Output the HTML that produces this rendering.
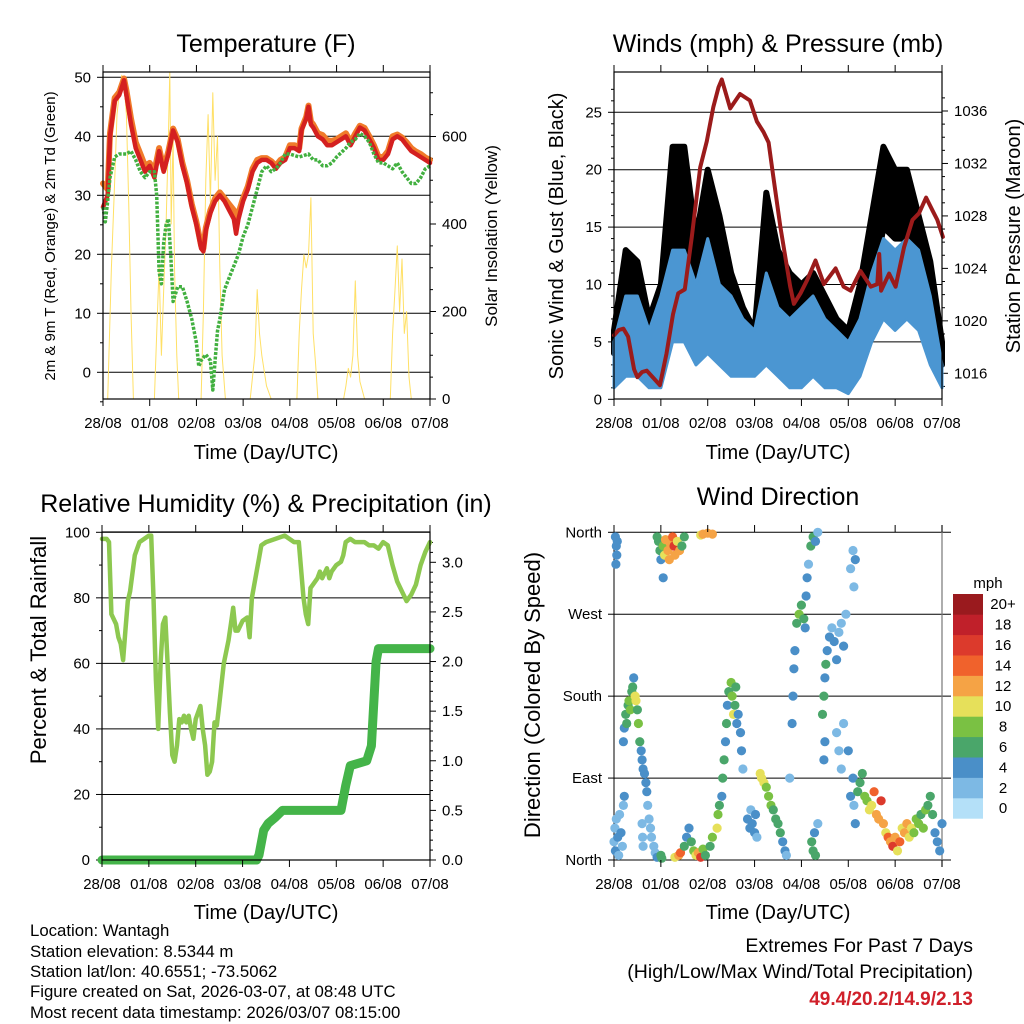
<!DOCTYPE html>
<html><head><meta charset="utf-8"><style>
html,body{margin:0;padding:0;background:#fff;}
svg{display:block;font-family:"Liberation Sans",Arial,sans-serif;}
</style></head><body>
<svg id="chart" xmlns="http://www.w3.org/2000/svg" width="1024" height="1024" viewBox="0 0 1024 1024">
<rect x="0" y="0" width="1024" height="1024" fill="#fff"/>
<text x="266" y="52" font-size="25" text-anchor="middle">Temperature (F)</text>
<text x="778" y="52" font-size="25" text-anchor="middle">Winds (mph) &amp; Pressure (mb)</text>
<text x="266" y="512" font-size="25" text-anchor="middle">Relative Humidity (%) &amp; Precipitation (in)</text>
<text x="778" y="505" font-size="25" text-anchor="middle">Wind Direction</text>
<text x="266" y="459" font-size="20" text-anchor="middle">Time (Day/UTC)</text>
<text x="778" y="459" font-size="20" text-anchor="middle">Time (Day/UTC)</text>
<text x="266" y="919" font-size="20" text-anchor="middle">Time (Day/UTC)</text>
<text x="778" y="919" font-size="20" text-anchor="middle">Time (Day/UTC)</text>
<text transform="translate(55,236) rotate(-90)" font-size="15" text-anchor="middle">2m &amp; 9m T (Red, Orange) &amp; 2m Td (Green)</text>
<text transform="translate(497,236) rotate(-90)" font-size="17" text-anchor="middle">Solar Insolation (Yellow)</text>
<text transform="translate(563,236) rotate(-90)" font-size="20" text-anchor="middle">Sonic Wind &amp; Gust (Blue, Black)</text>
<text transform="translate(1020,236) rotate(-90)" font-size="20" text-anchor="middle">Station Pressure (Maroon)</text>
<text transform="translate(46,650) rotate(-90)" font-size="22" text-anchor="middle">Percent &amp; Total Rainfall</text>
<text transform="translate(540,695) rotate(-90)" font-size="22" text-anchor="middle">Direction (Colored By Speed)</text>
<g font-size="16.8">
<text x="30" y="936">Location: Wantagh</text>
<text x="30" y="957">Station elevation: 8.5344 m</text>
<text x="30" y="977">Station lat/lon: 40.6551; -73.5062</text>
<text x="30" y="997">Figure created on Sat, 2026-03-07, at 08:48 UTC</text>
<text x="30" y="1018">Most recent data timestamp: 2026/03/07 08:15:00</text>
</g>
<text x="973" y="952" font-size="19.5" text-anchor="end">Extremes For Past 7 Days</text>
<text x="973" y="978" font-size="19.5" text-anchor="end">(High/Low/Max Wind/Total Precipitation)</text>
<text x="973" y="1005" font-size="19" font-weight="bold" fill="#d0202a" text-anchor="end">49.4/20.2/14.9/2.13</text>
<g id="layer"></g>
</svg>
<script>
const dayLabels=['28/08','01/08','02/08','03/08','04/08','05/08','06/08','07/08'];
// Temperature panel
const tempT=[0,0.1,0.15,0.25,0.35,0.45,0.5,0.6,0.7,0.8,0.9,1.0,1.1,1.2,1.3,1.4,1.5,1.6,1.7,1.8,1.9,2.0,2.1,2.15,2.2,2.3,2.4,2.5,2.6,2.7,2.8,2.85,2.9,3.0,3.1,3.2,3.3,3.4,3.5,3.6,3.7,3.8,3.9,4.0,4.1,4.2,4.25,4.35,4.4,4.45,4.5,4.6,4.7,4.8,4.9,5.0,5.1,5.2,5.3,5.4,5.5,5.6,5.7,5.8,5.9,6.0,6.1,6.2,6.3,6.4,6.5,6.6,6.7,6.8,6.9,7.0];
const temp2m=[28,30,40,46,47,49.5,47,42,38,36,34,35,33,37.5,34,37,41,39,35,32,28,25,21,20.5,24,27,29,30,29,27.5,26,23.5,26,29,31,34,35.5,36,36,35.5,34.5,35.5,36,38,38,37.5,41,43,45,42,41.5,40,39.5,38.5,38.5,39,39.5,40,38.5,40,41.5,41,39.5,38,36,36,37,39.5,40,39.5,38.5,37.5,37,36.5,36,35.5];
const temp9m=[32,31,40.5,46.5,47.5,49.8,47.8,43,39,37,35,35.5,34,38,34.5,37.5,41.3,39.5,35.5,32.5,28.5,25.5,21.5,21,24.5,27.5,29.5,30.5,29.5,28.5,27.5,25,27,29.5,31.5,34.5,36,36.3,36.3,35.8,35,36,36.5,38.5,38.5,38,41.3,43.3,45.2,42.5,42,40.5,40.2,39.3,39.2,39.5,40,40.5,39,40.5,41.8,41.4,40,38.5,36.5,36.5,37.5,40,40.3,39.8,39,38,37.4,37,36.4,36];
const tdT=[0,0.05,0.1,0.15,0.25,0.35,0.5,0.6,0.7,0.8,0.9,1.0,1.1,1.15,1.2,1.25,1.3,1.35,1.4,1.45,1.5,1.6,1.7,1.8,1.9,2.0,2.05,2.1,2.2,2.3,2.35,2.4,2.45,2.5,2.6,2.7,2.8,2.9,3.0,3.1,3.2,3.3,3.4,3.5,3.6,3.7,3.8,3.9,4.0,4.2,4.4,4.5,4.6,4.7,4.8,4.9,5.0,5.2,5.3,5.4,5.5,5.6,5.7,5.8,5.9,6.0,6.1,6.2,6.3,6.4,6.5,6.6,6.7,6.8,6.9,7.0];
const dewpoint=[28,25.5,29,33,36.5,37,37,37.5,36,34,33,34,34,30,17,15,22,25,26,20,12,14.5,14.5,12,9,5,1,2,3,2,-3,2,7,9,14,16,18,20,23,25,28,31,34,35,34,34.5,35.5,37,37,36.5,37,36,36,35,35,35.5,36.5,38,39,39.5,40.5,40,39,37,35.5,35.5,35,34.5,35.5,34,33,32,32,33,34.5,35];
const solarT=[0.1,0.18,0.25,0.3,0.35,0.4,0.45,0.5,0.55,0.6,0.65,1.1,1.15,1.2,1.25,1.3,1.35,1.4,1.43,1.46,1.5,1.53,1.58,1.62,2.1,2.15,2.2,2.25,2.3,2.35,2.4,2.45,2.5,2.55,2.62,3.15,3.25,3.3,3.35,3.4,3.5,3.6,4.15,4.2,4.25,4.3,4.35,4.4,4.45,4.5,4.55,4.6,5.15,5.2,5.25,5.3,5.35,5.4,5.45,5.5,5.6,6.15,6.2,6.25,6.3,6.35,6.4,6.45,6.5,6.55,6.6];
const solar=[0,300,500,650,700,740,720,650,450,200,0,0,150,300,100,250,400,600,750,400,600,300,100,0,0,200,500,650,450,700,500,600,300,100,0,0,100,250,150,100,30,0,0,150,250,330,300,330,460,150,80,0,0,30,70,50,100,270,100,40,0,0,150,250,350,200,320,150,200,50,0];
// Wind panel
const windT=[0,0.25,0.5,0.75,1,1.25,1.5,1.75,2,2.25,2.5,2.75,3,3.25,3.5,3.75,4,4.25,4.5,4.75,5,5.25,5.5,5.75,6,6.25,6.5,6.75,7];
const windHi=[5,9,9,6,9,13,13,10,14,10,9,7,6,11,8,7,8,9,7,6,5,7,11,14,13,14,13,9,3];
const windLo=[1,2,2,1,1,5,5,3,4,3,2,2,2,3,2,1,1,2,1,1,0.5,2,5,7,6,7,6,3,1];
const gustHi=[6,13,12,7,10,22,22,14,20,16,11,8,6,18,13,11,10,11,9,7,6,10,16,22,20,20,16,12,5];
const gustLo=[4,5,4,3,5,12,12,7,10,8,6,4,4,10,8,5,6,6,5,4,4,6,9,15,14,14,10,7,3];
const presT=[0,0.1,0.2,0.3,0.43,0.5,0.6,0.7,0.8,0.98,1.12,1.26,1.37,1.51,1.66,1.84,1.98,2.12,2.23,2.3,2.48,2.69,2.9,3.05,3.19,3.3,3.4,3.55,3.76,3.84,3.98,4.12,4.3,4.48,4.73,4.9,5.05,5.26,5.48,5.62,5.66,5.7,5.87,6.01,6.19,6.37,6.51,6.66,6.8,6.9,7.02];
const pressure=[1018.9,1019.3,1019.4,1018.8,1016.3,1015.7,1016.1,1016.2,1015.8,1015.1,1017.5,1020.5,1022.1,1022.4,1026.4,1031.7,1033.7,1036.3,1037.8,1038.4,1036.2,1037.3,1036.8,1035.2,1034.4,1033.6,1031,1027.2,1022.6,1021.3,1022.1,1023.1,1024.6,1022.8,1024,1022.6,1022.3,1023.8,1022.6,1022.8,1025.1,1022.3,1023.6,1022.6,1025.6,1027.7,1028.2,1029.4,1028.4,1027.7,1026.4];
// Humidity panel
const rhT=[0,0.1,0.15,0.2,0.3,0.35,0.4,0.45,0.5,0.55,0.6,0.7,0.8,0.9,1.0,1.05,1.1,1.15,1.2,1.25,1.3,1.35,1.4,1.45,1.5,1.55,1.6,1.65,1.7,1.75,1.8,1.85,1.9,1.95,2.0,2.1,2.15,2.2,2.25,2.3,2.35,2.4,2.45,2.5,2.6,2.7,2.75,2.8,2.85,2.9,3.0,3.1,3.15,3.2,3.3,3.35,3.4,3.5,3.7,3.9,4.0,4.1,4.2,4.3,4.35,4.4,4.45,4.5,4.6,4.65,4.7,4.8,4.85,4.9,5.0,5.1,5.15,5.2,5.3,5.4,5.5,5.6,5.7,5.8,5.9,6.0,6.1,6.2,6.3,6.4,6.5,6.6,6.7,6.8,6.9,7.0];
const rh=[98,98,97,75,72,68,66,61,70,79,82,93,97,98,99,99,80,55,40,60,72,74,60,45,32,30,35,43,42,44,42,44,40,37,43,47,40,35,26,27,30,42,41,47,60,67,72,77,70,70,73,74,68,80,88,92,96,97,98,99,98,97,97,80,75,72,83,84,86,88,86,89,86,88,90,91,93,97,98,97,97,97,96,96,95,97,96,90,85,82,79,81,84,90,94,97];
const precipT=[0,3.3,3.35,3.45,3.55,3.7,3.85,5.1,5.2,5.3,5.65,5.75,5.85,5.9,7.0];
const precip=[0,0,0.05,0.3,0.37,0.43,0.5,0.5,0.75,0.95,1.0,1.15,2.0,2.13,2.13];
// Wind direction panel
const dirT=[0.03,0.05,0.06,0.04,0.07,0.0,0.02,0.03,0.05,0.08,0.1,0.12,0.15,0.18,0.2,0.22,0.2,0.22,0.25,0.27,0.3,0.32,0.35,0.38,0.4,0.42,0.45,0.47,0.5,0.52,0.55,0.58,0.6,0.62,0.65,0.68,0.7,0.72,0.75,0.78,0.8,0.85,0.88,0.92,0.6,0.61,0.62,0.92,0.95,0.98,1.0,1.05,1.08,1.1,1.15,1.18,1.2,1.25,1.28,1.3,1.35,1.4,1.45,1.5,1.05,1.0,1.02,1.3,1.38,1.42,1.5,1.55,1.6,1.65,1.7,1.75,1.8,1.85,1.9,1.95,2.05,2.1,1.85,1.9,2.0,2.1,2.2,2.22,2.25,2.3,2.32,2.35,2.38,2.4,2.42,2.45,2.5,2.52,2.55,2.58,2.6,2.62,2.65,2.7,2.72,2.75,2.85,2.9,2.92,2.95,3.0,3.02,3.05,3.12,3.15,3.2,3.25,3.3,3.35,3.4,3.45,3.5,3.55,3.6,3.65,3.68,3.75,3.8,3.82,3.84,3.86,3.9,3.95,4.0,4.05,4.08,4.1,4.12,4.15,4.2,4.25,4.3,4.35,4.22,4.25,4.28,4.3,4.35,4.45,4.48,4.5,4.52,4.55,4.6,4.65,4.7,4.75,4.8,4.85,4.9,4.95,4.5,4.48,4.75,4.8,4.85,4.9,5.0,5.05,5.1,5.15,5.12,5.05,5.1,5.12,5.15,5.2,5.25,5.3,5.35,5.4,5.45,5.5,5.55,5.6,5.65,5.7,5.75,5.8,5.85,5.9,5.95,6.0,6.05,6.1,6.15,6.2,6.25,6.3,6.35,6.4,6.45,6.5,6.55,6.6,6.65,6.7,6.75,6.8,6.85,6.9,6.95,7.0];
const dirDeg=[355,345,335,325,350,20,35,10,45,25,5,50,30,15,60,70,130,145,160,150,170,175,165,185,190,200,180,175,165,150,130,120,110,100,95,85,75,60,45,35,25,15,8,3,40,25,15,355,350,340,330,345,335,352,340,330,348,355,345,335,350,340,345,355,310,5,2,3,5,8,15,25,35,20,10,5,8,3,12,5,15,25,357,358,359,358,35,50,60,70,90,110,130,150,170,185,195,180,160,170,190,150,160,140,120,100,45,35,55,40,30,50,25,95,90,85,80,70,60,55,45,40,30,20,10,5,90,150,180,210,230,260,270,280,265,255,290,310,325,345,355,350,360,20,10,30,5,40,160,180,200,215,230,245,255,240,220,250,260,235,270,130,110,140,120,100,150,120,320,340,330,300,70,90,60,40,75,85,95,70,65,55,60,75,50,45,65,40,30,25,20,15,25,10,20,35,30,40,25,35,30,45,40,50,35,55,60,70,50,30,20,10,40];
const dirSpd=[4,4,3,4,3,2,2,3,2,3,2,2,3,2,2,3,4,4,5,6,6,8,8,6,5,4,9,10,6,7,5,4,4,3,4,4,3,2,2,2,2,2,2,3,2,2,1,6,6,5,4,8,10,12,12,12,11,14,16,12,10,12,6,6,3,6,6,10,12,14,6,4,4,6,8,10,12,16,8,6,6,8,10,12,12,12,10,8,6,4,5,6,4,6,4,6,7,8,9,6,6,4,4,4,3,2,3,3,2,4,4,3,2,10,10,9,8,7,8,6,6,5,5,4,3,2,2,4,4,4,4,6,7,6,5,4,4,3,2,6,6,4,1,6,6,4,6,1,6,6,4,5,4,3,2,4,4,2,2,4,1,4,4,2,1,1,2,3,1,2,4,2,4,3,2,3,5,6,6,7,8,9,10,14,11,12,15,12,10,13,12,16,12,10,13,10,12,11,10,9,8,7,8,6,7,7,6,6,5,4,3,3,3];
const speedColors=['#b4e0f8','#7db9e4','#4a8fc8','#4aa66a','#7ac143','#e6e05a','#f5a345','#f0622c','#dc3a2c','#c0202a','#9a1a1e'];
const speedLabels=['0','2','4','6','8','10','12','14','16','18','20+'];

const NS='http://www.w3.org/2000/svg';
const layer=document.getElementById('layer');
function mk(tag,parent){const e=document.createElementNS(NS,tag);(parent||layer).appendChild(e);return e;}
function sa(e,o){for(const k in o)e.setAttribute(k,o[k]);return e;}
function lin(d0,d1,r0,r1){return v=>r0+(v-d0)/(d1-d0)*(r1-r0);}
function pathD(xs,ys,fx,fy){return xs.map((t,i)=>(i?'L':'M')+fx(t).toFixed(1)+','+fy(ys[i]).toFixed(1)).join('');}

const P=[
 {x0:103,x1:430,top:72,bot:399,name:'temperature'},
 {x0:614,x1:942,top:72,bot:399,name:'winds'},
 {x0:102,x1:430,top:532,bot:860,name:'humidity'},
 {x0:614,x1:942,top:532,bot:860,name:'direction'}];
P.forEach(p=>{p.x=lin(0,7,p.x0,p.x1);});

function xAxis(p){
 dayLabels.forEach((lb,i)=>{
  const x=p.x(i);
  const tk=mk('line');sa(tk,{x1:x,x2:x,y1:p.bot,y2:p.bot+7,stroke:'#000','stroke-width':1});
  
  
  const tt=mk('line');sa(tt,{x1:x,x2:x,y1:p.top,y2:p.top-7,stroke:'#000','stroke-width':1});
  
  
  const t=mk('text');sa(t,{x:x,y:p.bot+29,'font-size':15,'text-anchor':'middle'});t.textContent=lb;
  
  
 });
}
function grid(p,y,x2){const g=mk('line');sa(g,{x1:p.x0,x2:x2||p.x1,y1:y,y2:y,stroke:'#000','stroke-width':1});
 
 }
function ylab(p,y,txt,side,cls){const t=mk('text');
 sa(t,{x:side==='L'?p.x0-12:p.x1+12,y:y+5,'font-size':15,'text-anchor':side==='L'?'end':'start'});t.textContent=txt;
 
 
 const tk=mk('line');const xx=side==='L'?p.x0:p.x1;sa(tk,{x1:xx,x2:side==='L'?xx-6:xx+6,y1:y,y2:y,stroke:'#000'});
 
 }
function minor(p,y,side){const tk=mk('line');const xx=side==='L'?p.x0:p.x1;sa(tk,{x1:xx,x2:side==='L'?xx-3:xx+3,y1:y,y2:y,stroke:'#000'});
 
 }
function frame(p){const r=mk('rect');sa(r,{x:p.x0,y:p.top,width:p.x1-p.x0,height:p.bot-p.top,fill:'none',stroke:'#000','stroke-width':1.2});
 
 }
function polyline(d,color,w,name,extra){const e=mk('path');sa(e,{d:d,fill:'none',stroke:color,'stroke-width':w,'stroke-linejoin':'round','stroke-linecap':'round'});
 if(extra)sa(e,extra);
 
 return e;}

// ---- Panel 1 ----
(function(){const p=P[0];const yL=lin(0,50,372.3,77.3);const yR=lin(0,600,399,136.5);
 const clip=mk('clipPath');sa(clip,{id:'c1'});const cr=mk('rect',clip);sa(cr,{x:p.x0,y:p.top,width:p.x1-p.x0,height:p.bot-p.top});
 
 
 [0,10,20,30,40,50].forEach(v=>{grid(p,yL(v));ylab(p,yL(v),v,'L','temperature-y-label');});
 [-5,5,15,25,35,45].forEach(v=>minor(p,yL(v),'L'));
 [0,200,400,600].forEach(v=>ylab(p,yR(v),v,'R','solar-y-label'));
 for(let v=50;v<750;v+=50)if(v%200)minor(p,yR(v),'R');
 polyline(pathD(solarT,solar,p.x,yR),'#ffe066',1,'solar-line',{'clip-path':'url(#c1)'});
 polyline(pathD(tempT,temp9m,p.x,yL),'#f07b2a',6,'temperature-9m-line');
 polyline(pathD(tempT,temp2m,p.x,yL),'#d42020',4.5,'temperature-2m-line');
 polyline(pathD(tdT,dewpoint,p.x,yL),'#42b040',3.5,'dewpoint-line',{'stroke-dasharray':'3 1.5','stroke-linecap':'butt'});
 frame(p);xAxis(p);})();

// ---- Panel 2 ----
(function(){const p=P[1];const yW=lin(0,25,399.3,112.3);const yP=lin(1016,1036,373.3,111);
 [5,10,15,20,25].forEach(v=>grid(p,yW(v)));
 [0,5,10,15,20,25].forEach(v=>ylab(p,yW(v),v,'L','wind-y-label'));
 for(let v=1;v<28;v++)if(v%5)minor(p,yW(v),'L');
 [1016,1020,1024,1028,1032,1036].forEach(v=>ylab(p,yP(v),v,'R','pressure-y-label'));
 for(let v=1015;v<1038;v++)if(v%4)minor(p,yP(v),'R');
 const gd=pathD(windT,gustHi,p.x,yW)+windT.slice().reverse().map((t,i)=>'L'+p.x(t).toFixed(1)+','+yW(gustLo[windT.length-1-i]).toFixed(1)).join('')+'Z';
 const g=mk('path');sa(g,{d:gd,fill:'#000',stroke:'#000','stroke-width':6,'stroke-linejoin':'round'});
 
 
 const wd=pathD(windT,windHi,p.x,yW)+windT.slice().reverse().map((t,i)=>'L'+p.x(t).toFixed(1)+','+yW(windLo[windT.length-1-i]).toFixed(1)).join('')+'Z';
 const w=mk('path');sa(w,{d:wd,fill:'#4b96d2',stroke:'#4b96d2','stroke-width':3,'stroke-linejoin':'round'});
 
 
 polyline(pathD(presT,pressure,p.x,yP),'#9b1b1b',4,'pressure-line');
 frame(p);xAxis(p);})();

// ---- Panel 3 ----
(function(){const p=P[2];const yL=lin(0,100,860,532.3);const yR=lin(0,3,860,562.3);
 [20,40,60,80,100].forEach(v=>grid(p,yL(v)));
 [0,20,40,60,80,100].forEach(v=>ylab(p,yL(v),v,'L','humidity-y-label'));
 [10,30,50,70,90].forEach(v=>minor(p,yL(v),'L'));
 [0,0.5,1,1.5,2,2.5,3].forEach(v=>ylab(p,yR(v),v.toFixed(1),'R','precip-y-label'));
 for(let v=0.1;v<3.3;v+=0.1)if(Math.abs(v*2-Math.round(v*2))>0.05)minor(p,yR(v),'R');
 polyline(pathD(rhT,rh,p.x,yL),'#8dc850',4.5,'humidity-line');
 polyline(pathD(precipT,precip,p.x,yR),'#44b449',9,'precipitation-line');
 frame(p);xAxis(p);})();

// ---- Panel 4 ----
(function(){const p=P[3];const yD=lin(0,360,860,532.3);
 const names=['North','East','South','West','North'];
 [0,90,180,270,360].forEach((v,i)=>{grid(p,yD(v),951);ylab(p,yD(v),names[i],'L','direction-y-label');});
 const ax=mk('line');sa(ax,{x1:p.x0,x2:p.x0,y1:p.top-7,y2:p.bot,stroke:'#000'});
 
 
 const ar=mk('line');sa(ar,{x1:p.x1,x2:p.x1,y1:p.top-7,y2:p.bot+7,stroke:'#777','stroke-width':1.2});
 
 
 dirT.forEach((t,i)=>{const c=mk('circle');
  const idx=Math.min(10,Math.floor((dirSpd[i]+1)/2));
  sa(c,{cx:p.x(t).toFixed(1),cy:yD(dirDeg[i]).toFixed(1),r:4.6,fill:speedColors[idx]});
  
  });
 xAxis(p);
 const lt=mk('text');sa(lt,{x:988,y:588,'font-size':15,'text-anchor':'middle'});lt.textContent='mph';
 
 
 const bh=20.4;
 speedColors.forEach((c,i)=>{const y=594+(10-i)*bh;
  const r=mk('rect');sa(r,{x:953,y:y,width:30,height:bh+0.3,fill:c});
  
  
  const t=mk('text');sa(t,{x:1003,y:y+bh/2+5,'font-size':15,'text-anchor':'middle'});t.textContent=speedLabels[i];
  
  });
})();
</script>
</body></html>
